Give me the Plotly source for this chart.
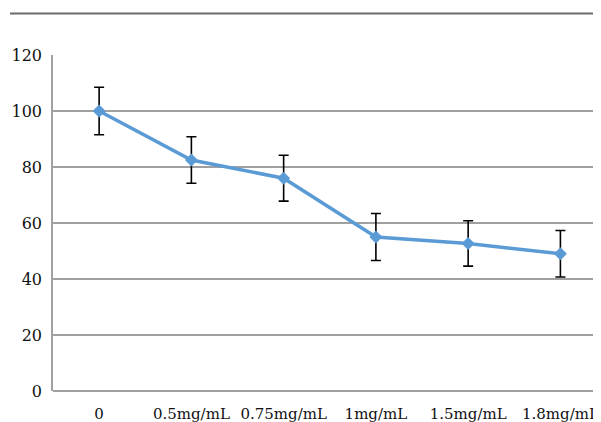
import plotly.graph_objects as go

categories = ["0", "0.5mg/mL", "0.75mg/mL", "1mg/mL", "1.5mg/mL", "1.8mg/mL"]
values = [100, 82.5, 76, 55, 52.7, 49]
errors = [8.5, 8.3, 8.2, 8.4, 8.1, 8.3]
y_ticks = [0, 20, 40, 60, 80, 100, 120]

# the page body has an 8px margin, so the figure is laid out in a 593x414 box
W, H = 593, 414
L, R, T, B = 45, 0, 47, 31

fig = go.Figure()
fig.add_trace(go.Scatter(
    x=list(range(len(categories))), y=values,
    mode="lines+markers",
    line=dict(color="#5B9BD5", width=3.5),
    marker=dict(symbol="diamond", size=10, color="#5B9BD5"),
    error_y=dict(type="data", array=errors, visible=True, color="black", thickness=1.6, width=5),
    showlegend=False,
))

xfont = dict(family="DejaVu Serif", size=15, color="#111111")
yfont = dict(family="DejaVu Serif", size=16, color="#111111")

fig.update_layout(
    width=W, height=H,
    margin=dict(l=L, r=R, t=T, b=B, pad=0),
    paper_bgcolor="white", plot_bgcolor="white",
    xaxis=dict(
        tickmode="array", tickvals=list(range(len(categories))), ticktext=categories,
        range=[-0.5, 5.44], showgrid=False, zeroline=False, automargin=False,
        showline=False, ticks="", tickfont=xfont, ticklabelstandoff=12,
    ),
    yaxis=dict(
        range=[0, 120], tickmode="array", tickvals=y_ticks, automargin=False,
        showgrid=True, gridcolor="#a0a0a0", gridwidth=1.5,
        zeroline=True, zerolinecolor="#a0a0a0", zerolinewidth=1.5,
        showline=True, linecolor="#a0a0a0", linewidth=1.5,
        ticks="", tickfont=yfont, ticklabelstandoff=6,
    ),
)

# top decorative rule
pw = W - L - R
ph = H - T - B
y_rule = (H - B - 5.5) / ph
x0_rule = (2 - L) / pw
fig.add_shape(type="line", xref="paper", yref="paper",
              x0=x0_rule, x1=1.0, y0=y_rule, y1=y_rule,
              line=dict(color="#6b6b6b", width=2))

fig.write_html("out.html")
